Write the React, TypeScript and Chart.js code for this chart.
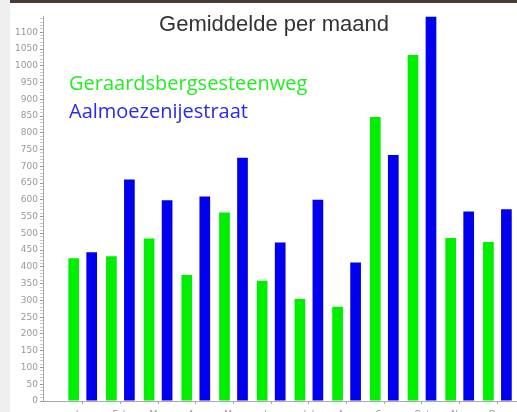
import React, { useEffect, useRef } from "react";
import { Chart, registerables } from "chart.js";

Chart.register(...registerables);

const months = ["Jan", "Feb", "Mar", "Apr", "May", "Jun", "Jul", "Aug", "Sep", "Oct", "Nov", "Dec"];
const geraardsbergsesteenweg = [426, 432, 485, 376, 562, 359, 304, 281, 847, 1032, 486, 474];
const aalmoezenijestraat = [444, 661, 599, 610, 726, 473, 600, 413, 734, 1147, 565, 572];
const seriesNames = ["Geraardsbergsesteenweg", "Aalmoezenijestraat"];
const chartTitle = "Gemiddelde per maand";

const GREEN = "#00ee00";
const BLUE = "#0000ee";

const overlayPlugin = {
  id: "overlayText",
  afterDraw(chart: any) {
    const ctx = chart.ctx;
    ctx.save();
    ctx.fillStyle = "#333333";
    ctx.font = '22px "Liberation Sans", Arial, sans-serif';
    ctx.textAlign = "center";
    ctx.textBaseline = "alphabetic";
    ctx.fillText(chartTitle, 274, 31);
    ctx.textAlign = "left";
    ctx.font = '20px "Open Sans", sans-serif';
    ctx.fillStyle = "#22ee22";
    ctx.fillText(seriesNames[0], 69, 90);
    ctx.fillStyle = "#2a2aee";
    ctx.fillText(seriesNames[1], 69, 118);
    ctx.restore();
  },
};

export default function App() {
  const ref = useRef<HTMLCanvasElement>(null);
  useEffect(() => {
    if (!ref.current) return;
    const chart = new Chart(ref.current, {
      type: "bar",
      data: {
        datasets: [
          {
            label: seriesNames[0],
            data: months.map((_, i) => ({ x: i + 1, y: geraardsbergsesteenweg[i] })),
            backgroundColor: GREEN,
            borderWidth: 0,
            barPercentage: 0.594,
            categoryPercentage: 0.955,
          },
          {
            label: seriesNames[1],
            data: months.map((_, i) => ({ x: i + 1, y: aalmoezenijestraat[i] })),
            backgroundColor: BLUE,
            borderWidth: 0,
            barPercentage: 0.594,
            categoryPercentage: 0.955,
          },
        ],
      },
      options: {
        animation: false,
        responsive: false,
        maintainAspectRatio: false,
        layout: { padding: { top: 16.5, left: 0, right: 0, bottom: 0 } },
        plugins: {
          legend: { display: false },
          title: { display: false },
          tooltip: { enabled: false },
        },
        scales: {
          x: {
            type: "linear",
            offset: false,
            min: -0.053,
            max: 12.52,
            afterBuildTicks: (scale: any) => {
              scale.ticks = months.map((_, i) => ({ value: i + 1 }));
            },
            afterFit: (scale: any) => {
              scale.height = 11;
            },
            ticks: {
              autoSkip: false,
              maxRotation: 0,
              padding: 5,
              color: "#999999",
              font: { family: "DejaVu Sans", size: 9 },
              callback: (v: any) => months[Math.round(Number(v)) - 1] ?? "",
            },
            grid: { offset: false, drawOnChartArea: false, tickLength: 3, color: "#aaaaaa" },
            border: { color: "#aaaaaa", width: 1 },
          },
          y: {
            type: "linear",
            min: 0,
            max: 1147,
            afterFit: (scale: any) => {
              scale.width = 43;
            },
            ticks: {
              stepSize: 10,
              autoSkip: false,
              includeBounds: false,
              padding: 2,
              color: "#999999",
              font: { family: "DejaVu Sans", size: 9 },
              callback: (v: any) => (Number(v) % 50 === 0 ? String(v) : ""),
            },
            grid: {
              drawOnChartArea: false,
              tickLength: 3,
              color: (c: any) => (c.tick && c.tick.value % 50 === 0 ? "#999999" : "#c8c8c8"),
            },
            border: { color: "#aaaaaa", width: 1 },
          },
        },
      },
      plugins: [overlayPlugin],
    } as any);
    return () => chart.destroy();
  }, []);

  return (
    <div style={{ position: "fixed", left: 0, top: 0, width: 517, height: 412, background: "#ffffff", overflow: "hidden" }}>
      <div style={{ position: "absolute", left: 0, top: 0, width: 10, height: 412, background: "#efefef" }} />
      <div style={{ position: "absolute", left: 10, top: 0, width: 507, height: 3, background: "#4a3c32" }} />
      <canvas ref={ref} width={517} height={412} style={{ position: "absolute", left: 0, top: 0, width: 517, height: 412 }} />
    </div>
  );
}
